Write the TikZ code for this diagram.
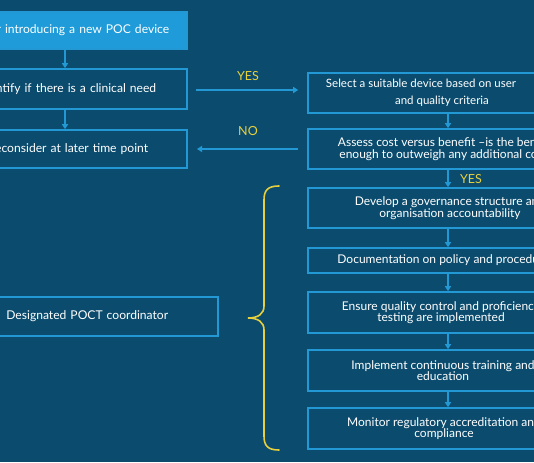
\documentclass[tikz,border=0pt]{standalone}
\usepackage{fontspec}
\setmainfont{Lato}
\usetikzlibrary{arrows.meta}
\definecolor{bg}{RGB}{11,76,110}
\definecolor{lblue}{RGB}{34,152,212}
\definecolor{fillblue}{RGB}{30,155,216}
\definecolor{yel}{RGB}{232,208,60}
\begin{document}
\begin{tikzpicture}[x=1pt,y=-1pt,
  box/.style={draw=lblue,line width=1.6pt,text=white,align=center,inner sep=0pt,font=\fontsize{12}{11.5}\selectfont},
  lbox/.style={draw=lblue,line width=1.6pt,text=white,inner ysep=0pt,anchor=east,text width=300pt,align=right,font=\fontsize{12.1}{12}\selectfont},
  arr/.style={draw=lblue,line width=1.3pt,-{Triangle[width=6pt,length=5pt]}},
  lab/.style={text=yel,font=\fontsize{12.5}{12}\selectfont},
  brace/.style={draw=yel,line width=1.6pt,line cap=round}]
\fill[bg] (0,0) rectangle (534,462);
\useasboundingbox (0,0) rectangle (534,462);
\clip (0,0) rectangle (534,462);
% left column
\node[lbox,fill=fillblue,inner xsep=18pt,minimum height=37pt] (b1) at (188,30.5) {Consider introducing a new POC device};
\node[lbox,inner xsep=31pt,minimum height=40pt] (b2) at (188,89) {Identify if there is a clinical need};
\node[lbox,inner xsep=39pt,minimum height=38pt] (b3) at (188,149) {Reconsider at later time point};
\node[lbox,inner xsep=50pt,minimum height=39pt] (b4) at (219,316.5) {Designated POCT coordinator};
\draw[arr] (b1.south -| 65,0) -- (b2.north -| 65,0);
\draw[arr] (b2.south -| 65,0) -- (b3.north -| 65,0);
% right column
\node[box,minimum width=268pt,minimum height=40pt,font=\fontsize{11.5}{17}\selectfont] (r1) at (442,93) {Select a suitable device based on user\rule{42pt}{0pt}\\and quality criteria};
\node[box,minimum width=276pt,minimum height=40pt] (r2) at (446,149) {Assess cost versus benefit --is the benefit\\enough to outweigh any additional cost?};
\node[box,minimum width=284pt,minimum height=40pt] (r3) at (450,208) {Develop a governance structure and\\organisation accountability};
\node[box,minimum width=276pt,minimum height=25pt] (r4) at (446,260.5) {Documentation on policy and procedures};
\node[box,minimum width=266pt,minimum height=41pt] (r5) at (441,312.5) {Ensure quality control and proficiency\\testing are implemented};
\node[box,minimum width=270pt,minimum height=41pt] (r6) at (443,370.5) {Implement continuous training and\\education};
\node[box,minimum width=272pt,minimum height=41pt] (r7) at (444,428.5) {Monitor regulatory accreditation and\\compliance};
\foreach \a/\b in {r1/r2,r2/r3,r3/r4,r4/r5,r5/r6,r6/r7}{
  \draw[arr] (\a.south -| 448,0) -- (\b.north -| 448,0);
}
% YES / NO connectors
\draw[arr,shorten <=8pt,shorten >=9pt] (b2.east |- 0,90) -- (r1.west |- 0,90);
\draw[arr,shorten <=9pt,shorten >=9pt] (r2.west) -- (b3.east);
\node[lab] (yes1) at (248,76) {YES};
\node[lab] (no1) at (248,131) {NO};
\node[lab] (yes2) at (471,179) {YES};
% brace
\draw[brace] (279,186) .. controls (268,186) and (264,190) .. (264,200) -- (264,306)
  .. controls (264,314) and (258,318) .. (248,318)
  .. controls (258,318) and (264,322) .. (264,330) -- (264,436)
  .. controls (264,446) and (268,450) .. (279,450);
\end{tikzpicture}
\end{document}
